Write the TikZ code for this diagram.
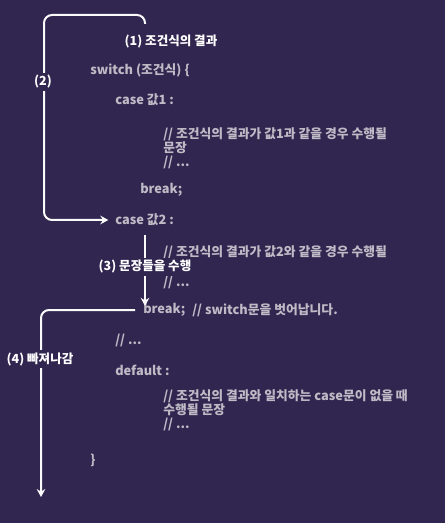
\documentclass[tikz,border=0pt]{standalone}
\usepackage{fontspec}
\setmainfont{Noto Sans CJK KR}
\usetikzlibrary{arrows.meta, positioning}
\definecolor{bgpurple}{RGB}{49,38,80}
\definecolor{codegray}{RGB}{190,187,198}
\tikzstyle{code}  = [anchor=west, inner sep=0pt, text=codegray, font=\fontsize{9.6}{10.5}\selectfont\bfseries, align=left]
\tikzstyle{tag}   = [inner sep=1.5pt, fill=bgpurple, text=white, font=\fontsize{9.4}{10}\selectfont\bfseries]
\tikzstyle{flow}  = [line width=1.5pt, draw=white!92!codegray, rounded corners=6, ->, >={Stealth[length=6pt, width=6.5pt, inset=2pt]}]

\begin{document}
\begin{tikzpicture}[x=0.75pt, y=-0.75pt]
        \fill[bgpurple] (0,0) rectangle (445,523);
        \useasboundingbox (0,0) rectangle (445,523);

        % code lines
        \node (switch) [code] at (90,70)   {switch (조건식) \{};
        \node (case1)  [code] at (115,100) {case 값1 :};
        \node (cmt1)   [code] at (163,148) {// 조건식의 결과가 값1과 같을 경우 수행될\\문장\\// ...};
        \node (brk1)   [code] at (140,190) {break;};
        \node (case2)  [code] at (115,220) {case 값2 :};
        \node (cmt2a)  [code] at (163,252) {// 조건식의 결과가 값2와 같을 경우 수행될};
        \node (cmt2b)  [code] at (163,282) {// ...};
        \node (brk2)   [code] at (143,310) {break;};
        \node (brkcmt) [code] at (192,310) {// switch문을 벗어납니다.};
        \node (dots)   [code] at (115,340) {// ...};
        \node (dflt)   [code] at (115,370) {default :};
        \node (cmt3)   [code] at (163,410) {// 조건식의 결과와 일치하는 case문이 없을 때\\수행될 문장\\// ...};
        \node (close)  [code] at (90,460)  {\}};

        % flow
        \coordinate (top)  at (145,24);
        \coordinate (down) at (145,235);
        \coordinate (out)  at (41,497);
        \draw [flow] (top) |- (44,15) |- ([xshift=-5pt]case2.west);
        \draw [flow] (down) -- ([yshift=-2pt]brk2.north -| down);
        \draw [flow] ([xshift=-6pt]brk2.west) -| (out);

        \node (res)  [tag, fill=none] at (171,41) {(1) 조건식의 결과};
        \node (loop) [tag] at (43,82)   {(2)};
        \node (run)  [tag] at (145,267) {(3) 문장들을 수행};
        \node (exit) [tag] at (40,359)  {(4) 빠져나감};
    \end{tikzpicture}
\end{document}
